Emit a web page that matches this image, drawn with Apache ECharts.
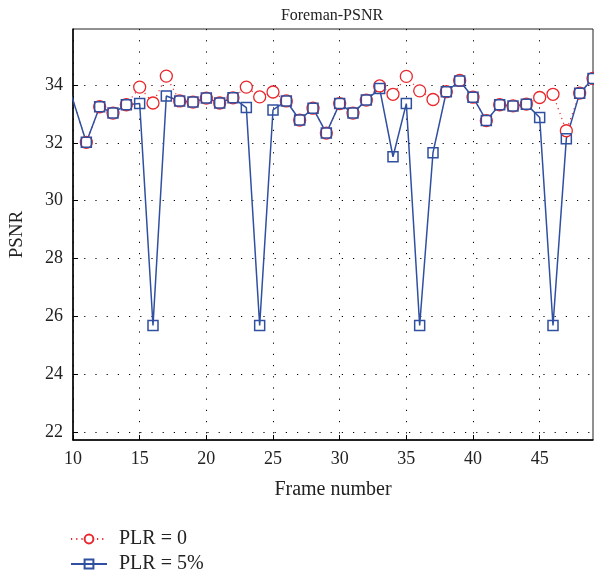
<!DOCTYPE html>
<html><head><meta charset="utf-8">
<script src="https://cdn.jsdelivr.net/npm/echarts@6/dist/echarts.min.js"></script>
<style>html,body{margin:0;padding:0;background:#fff}#c{width:594px;height:577px}</style>
</head><body><div id="c"></div>
<script>
const frames = [9,10,11,12,13,14,15,16,17,18,19,20,21,22,23,24,25,26,27,28,29,30,31,32,33,34,35,36,37,38,39,40,41,42,43,44,45,46,47,48,49];
const plr0 = [34.95,33.48,32.02,33.25,33.03,33.32,33.93,33.38,34.31,33.45,33.41,33.55,33.38,33.56,33.93,33.59,33.76,33.45,32.79,33.2,32.34,33.36,33.03,33.48,33.97,33.68,34.3,33.8,33.5,33.77,34.16,33.58,32.77,33.32,33.28,33.34,33.57,33.68,32.42,33.72,34.23];
const plr5 = [34.95,33.48,32.02,33.25,33.03,33.32,33.36,25.68,33.62,33.45,33.41,33.55,33.38,33.56,33.22,25.68,33.14,33.45,32.79,33.2,32.34,33.36,33.03,33.48,33.88,31.52,33.36,25.68,31.66,33.77,34.14,33.58,32.77,33.32,33.28,33.34,32.88,25.68,32.14,33.72,34.23];
const xTicks = [10,15,20,25,30,35,40,45];
const yTicks = [22,24,26,28,30,32,34];
const xMin = 10, xMax = 49;

const font = 'Liberation Serif';
const chart = echarts.init(document.getElementById('c'));
function build(vals) {
  return frames.map((f, i) => f <= xMin ? {value: [f, vals[i]], symbol: 'none'} : {value: [f, vals[i]]});
}
chart.setOption({
  animation: false,
  title: {text: 'Foreman-PSNR', left: 327, top: 3, textAlign: 'center',
    textStyle: {fontFamily: font, fontSize: 16, fontWeight: 'normal', color: '#222'}},
  grid: {left: 70, right: 1, top: 29, bottom: 137, show: true, borderColor: '#222', borderWidth: 1},
  legend: {orient: 'vertical', left: 70, top: 529, padding: 0, itemGap: 5, itemWidth: 36, itemHeight: 11,
    textStyle: {fontFamily: font, fontSize: 20, lineHeight: 20, color: '#222', padding: [0, 0, 0, 7]},
    data: ['PLR = 0', 'PLR = 5%']},
  xAxis: {type: 'value', min: xMin, max: xMax,
    name: 'Frame number', nameLocation: 'middle', nameGap: 40,
    nameTextStyle: {fontFamily: font, fontSize: 20, color: '#222'},
    axisLine: {lineStyle: {color: '#000', width: 1.5}},
    axisTick: {inside: true, length: 5, customValues: xTicks, lineStyle: {color: '#000'}},
    axisLabel: {customValues: xTicks, fontFamily: font, fontSize: 18, color: '#222', margin: 10},
    splitLine: {show: true, lineStyle: {color: '#000', type: [1.2, 10], width: 1}}},
  yAxis: {type: 'value', min: 21.72, max: 35.94,
    name: 'PSNR', nameLocation: 'middle', nameGap: 46,
    nameTextStyle: {fontFamily: font, fontSize: 19, color: '#222'},
    axisLine: {show: true, lineStyle: {color: '#000', width: 1.5}},
    axisTick: {show: true, inside: true, length: 5, customValues: yTicks, lineStyle: {color: '#000'}},
    axisLabel: {customValues: yTicks, fontFamily: font, fontSize: 18, color: '#222', margin: 10},
    splitLine: {show: true, lineStyle: {color: '#000', type: [1.2, 10], width: 1}}},
  series: [
    {name: 'PLR = 0', type: 'line', data: build(plr0),
      symbol: 'circle', symbolSize: 12, showAllSymbol: true,
      lineStyle: {color: '#e8262b', width: 1.2, type: [1.2, 4]},
      itemStyle: {color: '#fff', borderColor: '#e8262b', borderWidth: 1.3}},
    {name: 'PLR = 5%', type: 'line', data: build(plr5),
      symbol: 'rect', symbolSize: 10, showAllSymbol: true,
      lineStyle: {color: '#2f4fa0', width: 1.5},
      itemStyle: {color: 'rgba(255,255,255,0)', borderColor: '#2f4fa0', borderWidth: 1.5}}
  ]
});
</script></body></html>
